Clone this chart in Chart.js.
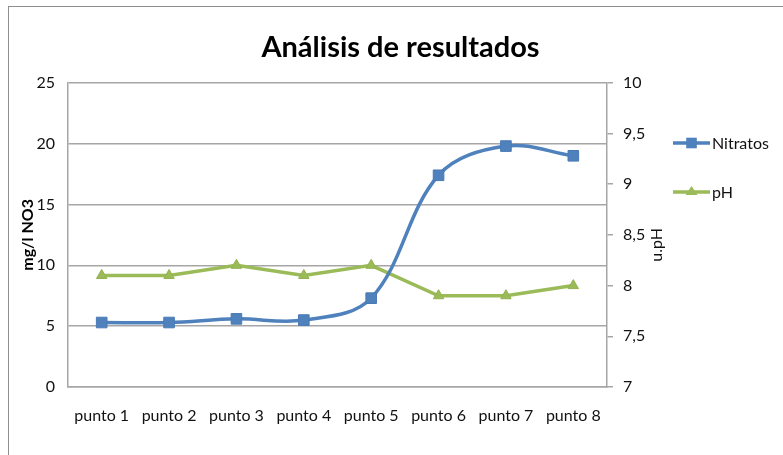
<!DOCTYPE html>
<html>
<head>
<meta charset="utf-8">
<script src="https://cdn.jsdelivr.net/npm/chart.js@4/dist/chart.umd.min.js"></script>
<style>
html, body { margin: 0; padding: 0; background: #fff; }
#marco { position: absolute; left: 8px; top: 6px; width: 820px; height: 520px; border: 1.5px solid #8e8e8e; border-right: none; border-bottom: none; }
#caja { position: absolute; left: 0; top: 0; width: 783px; height: 455px; }
</style>
</head>
<body>
<div id="marco"></div>
<div id="caja"><canvas id="resultados"></canvas></div>
<script>
const puntos = ["punto 1", "punto 2", "punto 3", "punto 4", "punto 5", "punto 6", "punto 7", "punto 8"];
const nitratos = [5.3, 5.3, 5.6, 5.5, 7.3, 17.4, 19.8, 19.0];
const ph = [8.1, 8.1, 8.2, 8.1, 8.2, 7.9, 7.9, 8.0];
const ticksNitratos = [0, 5, 10, 15, 20, 25];
const ticksPh = [7, 7.5, 8, 8.5, 9, 9.5, 10];

const azul = "#4f81bd";
const verde = "#9bbb59";
const gris = "#a6a6a6";
const fuente = "Lato, 'Open Sans', sans-serif";

// marcador de la leyenda (linea + simbolo), dibujado a mano
function marcador(ctx, estilo, color, x, y, r) {
    ctx.fillStyle = color;
    ctx.beginPath();
    if (estilo === "rect") {
        const s = r * Math.SQRT1_2;
        ctx.rect(x - s, y - s, 2 * s, 2 * s);
    } else {
        const h = r * 1.5;
        ctx.moveTo(x, y - h * 0.66);
        ctx.lineTo(x + r, y + h * 0.34);
        ctx.lineTo(x - r, y + h * 0.34);
        ctx.closePath();
    }
    ctx.fill();
}

// leyenda a la derecha y titulo del eje secundario (girado como en Excel)
const leyenda = {
    id: "leyenda",
    afterDraw(chart) {
        const ctx = chart.ctx;
        chart.data.datasets.forEach((ds, i) => {
            const x = 673, y = 143 + i * 49;
            ctx.save();
            ctx.strokeStyle = ds.borderColor;
            ctx.lineWidth = 3.5;
            ctx.beginPath();
            ctx.moveTo(x, y);
            ctx.lineTo(x + 37, y);
            ctx.stroke();
            marcador(ctx, ds.pointStyle, ds.pointBackgroundColor, x + 18.5, y, ds.pointRadius);
            ctx.fillStyle = "#111";
            ctx.font = "16px " + fuente;
            ctx.textBaseline = "middle";
            ctx.fillText(ds.label, x + 39, y + 1);
            ctx.restore();
        });
        const eje = chart.scales.y1;
        ctx.save();
        ctx.translate(657, (eje.top + eje.bottom) / 2 + 10);
        ctx.rotate(-Math.PI / 2);
        ctx.fillStyle = "#111";
        ctx.font = "16px " + fuente;
        ctx.textAlign = "center";
        ctx.textBaseline = "middle";
        ctx.fillText("u.pH", 0, 0);
        ctx.restore();
    }
};

new Chart(document.getElementById("resultados"), {
    type: "line",
    data: {
        labels: puntos,
        datasets: [
            {
                label: "Nitratos",
                data: nitratos,
                yAxisID: "y",
                borderColor: azul,
                borderWidth: 3.5,
                tension: 0.36,
                pointStyle: "rect",
                pointRadius: 7.5,
                pointBackgroundColor: azul,
                pointBorderColor: "#4a7ab5",
                pointBorderWidth: 1,
            },
            {
                label: "pH",
                data: ph,
                yAxisID: "y1",
                borderColor: verde,
                borderWidth: 3.5,
                tension: 0,
                pointStyle: "triangle",
                pointRadius: 6,
                pointBackgroundColor: verde,
                pointBorderColor: "#93b150",
                pointBorderWidth: 1,
            },
        ],
    },
    plugins: [leyenda],
    options: {
        responsive: true,
        maintainAspectRatio: false,
        animation: false,
        layout: { padding: { left: 18, right: 0, top: 0, bottom: 28 } },
        plugins: {
            legend: { display: false },
            tooltip: { enabled: false },
            title: {
                display: true,
                text: "Análisis de resultados",
                color: "#000",
                font: { family: fuente, size: 29, weight: "bold" },
                padding: { top: 30, bottom: 18 },
            },
        },
        scales: {
            x: {
                offset: true,
                grid: { display: false },
                border: { display: true, color: gris, width: 1.5 },
                ticks: { color: "#111", font: { family: fuente, size: 16 }, padding: 11, maxRotation: 0 },
                afterFit(s) { s.height = 40; },
            },
            y: {
                position: "left",
                min: 0,
                max: 25,
                afterBuildTicks(s) { s.ticks = ticksNitratos.map(v => ({ value: v })); },
                grid: { color: gris, lineWidth: 1.5, drawTicks: false },
                border: { display: true, color: gris, width: 1.5 },
                ticks: { color: "#111", font: { family: fuente, size: 16 }, padding: 13 },
                title: {
                    display: true,
                    text: "mg/l NO3",
                    color: "#000",
                    font: { family: fuente, size: 16, weight: "bold" },
                    padding: { top: 0, bottom: 0 },
                },
                afterFit(s) { s.width = 50; },
            },
            y1: {
                position: "right",
                min: 7,
                max: 10,
                afterBuildTicks(s) { s.ticks = ticksPh.map(v => ({ value: v })); },
                grid: { drawOnChartArea: false, drawTicks: true, tickLength: 6, color: gris, lineWidth: 1.5 },
                border: { display: true, color: gris, width: 1.5 },
                ticks: {
                    color: "#111",
                    font: { family: fuente, size: 16 },
                    padding: 10,
                    callback: v => String(v).replace(".", ","),
                },
                afterFit(s) { s.width = 176; },
            },
        },
    },
});
</script>
</body>
</html>
